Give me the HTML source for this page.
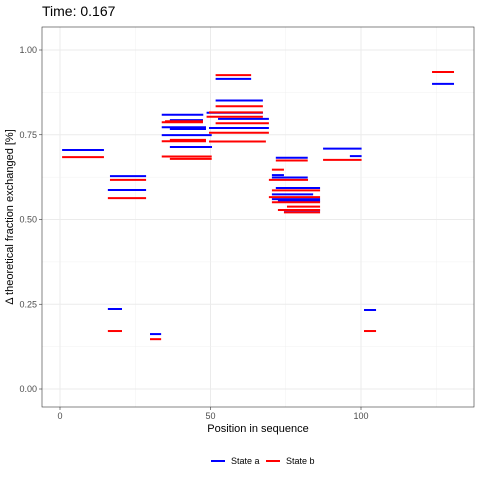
<!DOCTYPE html>
<html><head><meta charset="utf-8"><style>
body{margin:0;background:#fff}
svg{display:block;font-family:"Liberation Sans",sans-serif}
</style></head><body>
<svg id="chart" width="480" height="480">
<text x="42" y="16" font-size="14" fill="#000">Time: 0.167</text>
<g id="grid"></g>
<rect x="42" y="27" width="432" height="380" fill="none" stroke="#333" stroke-width="0.6"/>
<g id="marks"></g>
<g id="axes"></g>
<text x="258" y="432" font-size="11" text-anchor="middle">Position in sequence</text>
<text transform="translate(13,217) rotate(-90)" font-size="11" text-anchor="middle">Δ theoretical fraction exchanged [%]</text>
<g>
<line x1="211" y1="461" x2="225" y2="461" stroke="#0000ff" stroke-width="2"/>
<text x="231" y="464" font-size="9">State a</text>
<line x1="266" y1="461" x2="280" y2="461" stroke="#ff0000" stroke-width="2"/>
<text x="286" y="464" font-size="9">State b</text>
</g>
</svg>
<script>
const xTicks=[0,50,100];
const yTicks=[0,0.25,0.5,0.75,1.0];
const yTickLabels=["0.00","0.25","0.50","0.75","1.00"];
const aStart=[0.7,16.6,15.9,15.9,29.9,51.7,51.7,33.8,48.7,52.5,36.5,33.8,36.5,49.5,33.8,36.5,87.4,96.3,71.7,70.4,70.4,71.7,70.4,70.4,72.4,74.4,101,123.6];
const aEnd=[14.6,28.6,28.6,20.6,33.6,63.5,67.4,47.6,67.4,69.4,47.5,48.5,48.5,69.4,50.4,50.5,100.2,100.2,82.3,74.4,82.3,86.4,84.1,86.4,86.4,86.4,105,130.9];
const aVal=[0.705,0.628,0.587,0.236,0.162,0.915,0.851,0.809,0.815,0.797,0.793,0.772,0.767,0.770,0.749,0.714,0.709,0.687,0.682,0.631,0.624,0.593,0.574,0.560,0.555,0.527,0.233,0.900];
const bStart=[0.7,16.6,15.9,15.9,29.9,51.7,51.7,49.5,48.7,33.8,34.9,51.7,49.5,33.8,36.5,49.5,33.8,36.5,87.4,71.7,70.4,69.4,70.4,69.4,70.4,75.4,72.4,74.4,101,123.6];
const bEnd=[14.6,28.6,28.6,20.6,33.6,63.5,67.4,67.4,67.4,47.5,47.5,69.4,69.4,48.5,48.5,68.4,50.4,50.4,100.2,82.3,74.4,82.4,86.4,86.4,86.4,86.4,86.4,86.4,105,130.9];
const bVal=[0.684,0.617,0.563,0.171,0.147,0.926,0.834,0.816,0.803,0.787,0.790,0.784,0.756,0.731,0.735,0.730,0.686,0.679,0.676,0.674,0.647,0.617,0.586,0.566,0.551,0.538,0.528,0.521,0.171,0.935];
const X=v=>60+v*3.01, Y=v=>389-v*339;
const ns="http://www.w3.org/2000/svg";
const grid=document.getElementById('grid'),marks=document.getElementById('marks'),axes=document.getElementById('axes');
function ln(p,x1,y1,x2,y2,c,w){const l=document.createElementNS(ns,'line');l.setAttribute('x1',x1);l.setAttribute('y1',y1);l.setAttribute('x2',x2);l.setAttribute('y2',y2);l.setAttribute('stroke',c);l.setAttribute('stroke-width',w);p.appendChild(l);return l;}
for(let i=0;i<xTicks.length;i++){const v=xTicks[i];
 const m=ln(grid,X(v+25),27,X(v+25),407,'#f0f0f0',0.5);
 
 
 const g=ln(grid,X(v),27,X(v),407,'#ebebeb',1);
 
 
 const t=ln(axes,X(v),407,X(v),410,'#333',0.6);
 
 
 const tx=document.createElementNS(ns,'text');tx.setAttribute('x',X(v));tx.setAttribute('y',419);tx.setAttribute('font-size','9');tx.setAttribute('fill','#4d4d4d');tx.setAttribute('text-anchor','middle');tx.textContent=v;
 
 
 axes.appendChild(tx);}
for(let i=0;i<yTicks.length;i++){const v=yTicks[i];
 if(i<yTicks.length-1){const m=ln(grid,42,Y(v+0.125),474,Y(v+0.125),'#f0f0f0',0.5);
 
 }
 const g=ln(grid,42,Y(v),474,Y(v),'#ebebeb',1);
 
 
 const t=ln(axes,39,Y(v),42,Y(v),'#333',0.6);
 
 
 const tx=document.createElementNS(ns,'text');tx.setAttribute('x',37);tx.setAttribute('y',Y(v)+3);tx.setAttribute('font-size','9');tx.setAttribute('fill','#4d4d4d');tx.setAttribute('text-anchor','end');tx.textContent=yTickLabels[i];
 
 
 axes.appendChild(tx);}
for(let i=0;i<aVal.length;i++){const l=ln(marks,X(aStart[i]),Y(aVal[i]),X(aEnd[i]),Y(aVal[i]),'#0000ff',2);
 
 }
for(let i=0;i<bVal.length;i++){const l=ln(marks,X(bStart[i]),Y(bVal[i]),X(bEnd[i]),Y(bVal[i]),'#ff0000',2);
 
 }
</script>
</body></html>
